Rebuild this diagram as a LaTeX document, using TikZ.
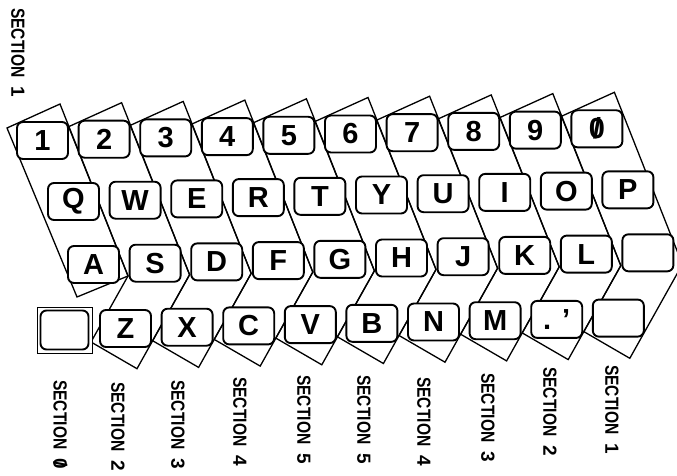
\documentclass[tikz,border=0pt]{standalone}
\usepackage{fontspec}
\usepackage{graphicx}
\setmainfont{Liberation Sans}
\newcommand\slashzero{\ooalign{0\cr\hidewidth/\hidewidth}}
\newcommand\seclab[1]{\scalebox{0.82}[1]{SECTION}\hspace{9pt}#1}
\begin{document}
\begin{tikzpicture}[x=1pt,y=-1pt,
  keybox/.style={draw, line width=1.9pt, rounded corners=6pt, fill=white,
    minimum width=51pt, minimum height=37pt, inner sep=0pt,
    font=\fontsize{29}{29}\selectfont\bfseries},
  stripline/.style={line width=1.3pt, line join=miter},
  seclabel/.style={rotate=-90, anchor=west, inner sep=0pt,
    font=\fontsize{19}{19}\selectfont\bfseries}]
\clip (0,0) rectangle (677,476);
\useasboundingbox (0,0) rectangle (677,476);
% section strips
\draw[stripline] (7,128) -- (60,104) -- (128,276) -- (77,297) -- cycle;
\foreach \s in {1,...,9} {
  \pgfmathsetmacro\dx{61.6*\s}
  \pgfmathsetmacro\dy{-1.3*\s}
  \draw[stripline, shift={(\dx,\dy)}] (7,128) -- (60,104) -- (128,276)
    -- (75.4,370) -- (29.4,343.3) -- (66.4,277.3) -- cycle;
}
% keys
\foreach \t [count=\i from 0] in {1,2,3,4,5,6,7,8,9,\slashzero}
  \node[keybox] (ra-\i) at ({42.5+61.6*\i},{140.5-1.3*\i}) {\t};
\foreach \t [count=\i from 0] in {Q,W,E,R,T,Y,U,I,O,P}
  \node[keybox] (rb-\i) at ({73.5+61.6*\i},{201.5-1.3*\i}) {\t};
\foreach \t [count=\i from 0] in {A,S,D,F,G,H,J,K,L,{}}
  \node[keybox] (rc-\i) at ({93.5+61.6*\i},{264.5-1.3*\i}) {\t};
\foreach \t [count=\i from 0] in {Z,X,C,V,B,N,M,{.\hspace{11pt}'},{}}
  \node[keybox] (rd-\i) at ({125.5+61.6*\i},{328.5-1.3*\i}) {\t};
\node[draw, line width=0.9pt, fill=white, minimum width=55pt, minimum height=46pt, inner sep=0pt] (shiftout) at (64.5,330) {};
\node[keybox, minimum width=48pt, minimum height=39pt] (shift) at (64.5,330) {};
% labels
\node[seclabel] (sectop) at (18,8) {\seclab{1}};
\foreach \x/\y/\d [count=\i] in {60/380/\slashzero,118/382/2,178/380/3,240/377/4,304/375/5,364/375/5,424/377/4,488/373/3,550/367/2,612/365/1}
  \node[seclabel] (sec-\i) at (\x,\y) {\seclab{\d}};
\end{tikzpicture}
\end{document}
